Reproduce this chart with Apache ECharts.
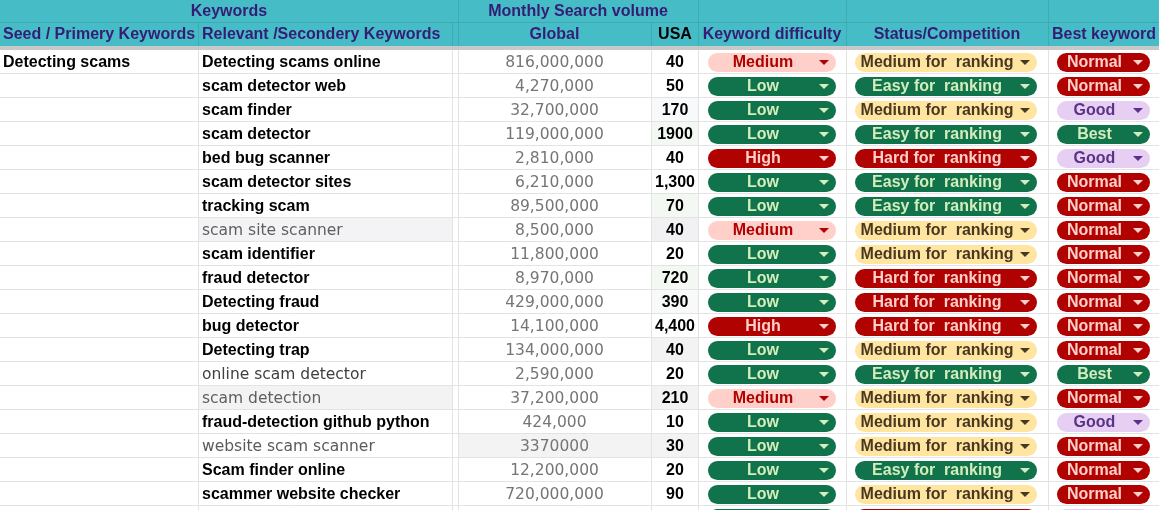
<!DOCTYPE html>
<html>
<head>
<meta charset="UTF-8">
<title>Keywords</title>
<script src="https://cdn.jsdelivr.net/npm/echarts@6/dist/echarts.min.js"></script>
<style>
	html, body { margin: 0; padding: 0; background: #fff; }
	#sheet { width: 1159px; height: 510px; }
</style>
</head>
<body>
<div id="sheet"></div>
<script type="text/javascript">
	// ---- sheet data ----
	var seedKeyword = 'Detecting scams';
	var keywords = ['Detecting scams online', 'scam detector web', 'scam finder', 'scam detector', 'bed bug scanner',
		'scam detector sites', 'tracking scam', 'scam site scanner', 'scam identifier', 'fraud detector',
		'Detecting fraud', 'bug detector', 'Detecting trap', 'online scam detector', 'scam detection',
		'fraud-detection github python', 'website scam scanner', 'Scam finder online', 'scammer website checker', ''];
	var globalVolume = [816000000, 4270000, 32700000, 119000000, 2810000, 6210000, 89500000, 8500000, 11800000, 8970000,
		429000000, 14100000, 134000000, 2590000, 37200000, 424000, 3370000, 12200000, 720000000, null];
	var usaVolume = [40, 50, 170, 1900, 40, 1300, 70, 40, 20, 720, 390, 4400, 40, 20, 210, 10, 30, 20, 90, null];
	var difficulty = ['Medium', 'Low', 'Low', 'Low', 'High', 'Low', 'Low', 'Medium', 'Low', 'Low',
		'Low', 'High', 'Low', 'Low', 'Medium', 'Low', 'Low', 'Low', 'Low', 'Low'];
	var competition = ['Medium for  ranking', 'Easy for  ranking', 'Medium for  ranking', 'Easy for  ranking', 'Hard for  ranking',
		'Easy for  ranking', 'Easy for  ranking', 'Medium for  ranking', 'Medium for  ranking', 'Hard for  ranking',
		'Hard for  ranking', 'Hard for  ranking', 'Medium for  ranking', 'Easy for  ranking', 'Medium for  ranking',
		'Medium for  ranking', 'Medium for  ranking', 'Easy for  ranking', 'Medium for  ranking', 'Hard for  ranking'];
	var bestKeyword = ['Normal', 'Normal', 'Good', 'Best', 'Good', 'Normal', 'Normal', 'Normal', 'Normal', 'Normal',
		'Normal', 'Normal', 'Normal', 'Best', 'Normal', 'Good', 'Normal', 'Normal', 'Normal', 'Good'];
	var groupHeaders = ['Keywords', 'Monthly Search volume'];
	var columnHeaders = ['Seed / Primery Keywords', 'Relevant /Secondery Keywords', 'Global', 'USA',
		'Keyword difficulty', 'Status/Competition', 'Best keyword'];
	// cells typed without thousands separator
	var plainGlobal = [16];
	var plainUsa = [3];

	// ---- look of the sheet ----
	var FONT = '"Liberation Sans", Arial, sans-serif';
	var FONT2 = '"DejaVu Sans", sans-serif';
	var TEAL = '#46bdc6', TEAL_LINE = '#3faab2', HEAD_TXT = '#351c75', GRID = '#e2e3e3';
	var ROW_H = 24, BODY_TOP = 50, BODY_H = 460;
	var edges = [198, 452, 458, 651, 698, 846, 1048];
	var chipBox = { diff: [708, 836], comp: [855, 1037], best: [1057, 1150] };
	var chipColor = {
		'Low': ['#11734b', '#d4edbc'], 'Medium': ['#ffcfc9', '#b10202'], 'High': ['#b10202', '#ffcfc9'],
		'Easy for  ranking': ['#11734b', '#d4edbc'], 'Medium for  ranking': ['#ffe5a0', '#473821'],
		'Hard for  ranking': ['#b10202', '#ffcfc9'],
		'Normal': ['#b10202', '#ffcfc9'], 'Good': ['#e6cff2', '#5a3286'], 'Best': ['#11734b', '#d4edbc']
	};
	// grey text rows in column B
	var greyText = { 7: '#5f5f5f', 13: '#3f3f3f', 14: '#5f5f5f', 16: '#5a5a5a' };
	// light cell fills  [x0, x1, colour]
	var shade = {
		2: [[651, 698, '#f8f9fa']], 3: [[651, 698, '#f3f8f3']], 6: [[651, 698, '#f3f8f3']],
		7: [[198, 452, '#f3f3f5'], [651, 698, '#f1f1f4']], 9: [[651, 698, '#f3f8f3']], 10: [[651, 698, '#f8f9f9']],
		12: [[651, 698, '#f3f3f3']], 14: [[198, 452, '#f3f3f3'], [651, 698, '#f3f3f3']],
		16: [[458, 651, '#f3f3f3'], [651, 698, '#f3f3f3']]
	};

	function fmt(v, plain) {
		if (v == null) return '';
		return plain ? String(v) : String(v).replace(/\B(?=(\d{3})+(?!\d))/g, ',');
	}

	function chip(kids, box, label, yc, X) {
		var c = chipColor[label];
		var x0 = X(box[0]), x1 = X(box[1]);
		var mid = (x0 + x1) / 2;
		kids.push({ type: 'rect', shape: { x: x0, y: yc - 9, width: x1 - x0, height: 19, r: 9.5 }, style: { fill: c[0] } });
		var ax = x1 - 12;
		kids.push({ type: 'polygon', shape: { points: [[ax - 5, yc - 2], [ax + 5, yc - 2], [ax, yc + 3]] }, style: { fill: c[1] } });
		kids.push({ type: 'text', style: { x: mid - 9, y: yc + 1, text: label, fill: c[1], font: 'bold 16px ' + FONT, align: 'center', verticalAlign: 'middle' } });
	}

	function renderRow(params, api) {
		var i = api.value(1);
		var yc = api.coord([0, i])[1];
		var h = api.size([0, 1])[1];
		var top = yc - h / 2, bot = yc + h / 2;
		var X = function (v) { return api.coord([v, i])[0]; };
		var kids = [];
		(shade[i] || []).forEach(function (s) {
			kids.push({ type: 'rect', shape: { x: X(s[0]), y: top, width: X(s[1]) - X(s[0]), height: h }, style: { fill: s[2] } });
		});
		kids.push({ type: 'line', shape: { x1: X(0), y1: bot - 0.5, x2: X(1159), y2: bot - 0.5 }, style: { stroke: GRID, lineWidth: 1 } });
		edges.forEach(function (e) {
			kids.push({ type: 'line', shape: { x1: X(e) + 0.5, y1: top, x2: X(e) + 0.5, y2: bot }, style: { stroke: GRID, lineWidth: 1 } });
		});
		if (i === 0) {
			kids.push({ type: 'text', style: { x: X(3), y: yc + 1, text: seedKeyword, fill: '#000', font: 'bold 16px ' + FONT, verticalAlign: 'middle' } });
		}
		if (greyText[i]) {
			kids.push({ type: 'text', style: { x: X(202), y: yc + 1, text: keywords[i], fill: greyText[i], font: '15.5px ' + FONT2, verticalAlign: 'middle' } });
		} else {
			kids.push({ type: 'text', style: { x: X(202), y: yc + 1, text: keywords[i], fill: '#000', font: 'bold 16px ' + FONT, verticalAlign: 'middle' } });
		}
		kids.push({ type: 'text', style: { x: X(554.5), y: yc + 1, text: fmt(globalVolume[i], plainGlobal.indexOf(i) >= 0), fill: '#757575', font: '15.5px ' + FONT2, align: 'center', verticalAlign: 'middle' } });
		kids.push({ type: 'text', style: { x: X(675), y: yc + 1, text: fmt(usaVolume[i], plainUsa.indexOf(i) >= 0), fill: '#000', font: 'bold 16px ' + FONT, align: 'center', verticalAlign: 'middle' } });
		chip(kids, chipBox.diff, difficulty[i], yc, X);
		chip(kids, chipBox.comp, competition[i], yc, X);
		chip(kids, chipBox.best, bestKeyword[i], yc, X);
		return { type: 'group', children: kids };
	}

	// ---- header (frozen rows) ----
	var head = [
		{ type: 'rect', shape: { x: 0, y: 0, width: 1159, height: 46 }, style: { fill: TEAL } },
		{ type: 'rect', shape: { x: 0, y: 46, width: 1159, height: 4 }, style: { fill: '#c8c8c8' } },
		{ type: 'line', shape: { x1: 0, y1: 22.5, x2: 1159, y2: 22.5 }, style: { stroke: TEAL_LINE } }
	];
	[458, 698, 846, 1048].forEach(function (e) {
		head.push({ type: 'line', shape: { x1: e + 0.5, y1: 0, x2: e + 0.5, y2: 22 }, style: { stroke: TEAL_LINE } });
	});
	edges.forEach(function (e) {
		head.push({ type: 'line', shape: { x1: e + 0.5, y1: 22, x2: e + 0.5, y2: 46 }, style: { stroke: TEAL_LINE } });
	});
	var groupX = [229, 578];
	groupHeaders.forEach(function (t, k) {
		head.push({ type: 'text', style: { x: groupX[k], y: 11.5, text: t, fill: HEAD_TXT, font: 'bold 16px ' + FONT, align: 'center', verticalAlign: 'middle' } });
	});
	var colX = [3, 202, 554.5, 675, 772, 947, 1104];
	var colAlign = ['left', 'left', 'center', 'center', 'center', 'center', 'center'];
	columnHeaders.forEach(function (t, k) {
		head.push({ type: 'text', style: { x: colX[k], y: 34.5, text: t, fill: k === 3 ? '#000' : HEAD_TXT, font: 'bold 16px ' + FONT, align: colAlign[k], verticalAlign: 'middle' } });
	});

	var rows = keywords.map(function (k, i) { return i; });
	var chart = echarts.init(document.getElementById('sheet'));
	chart.setOption({
		animation: false,
		backgroundColor: '#fff',
		grid: { left: 0, right: 0, top: BODY_TOP, bottom: 0 },
		xAxis: { type: 'value', min: 0, max: 1159, show: false },
		// row i sits at value i, one row = ROW_H pixels
		yAxis: { type: 'value', min: -0.5, max: -0.5 + BODY_H / ROW_H, inverse: true, show: false },
		series: [{
			type: 'custom',
			renderItem: renderRow,
			clip: false,
			data: rows.map(function (i) { return [0, i]; }),
			encode: { x: 0, y: 1 }
		}],
		graphic: head
	});
</script>
</body>
</html>
